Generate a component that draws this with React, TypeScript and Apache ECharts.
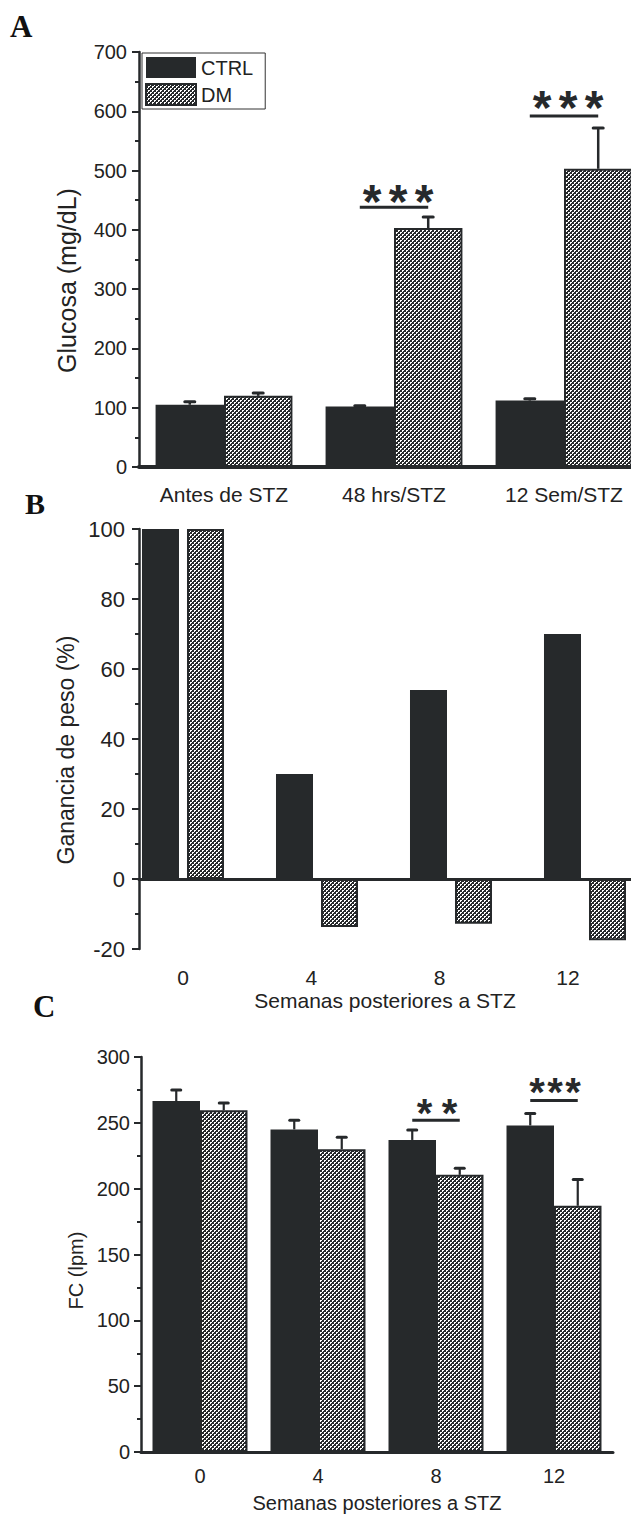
import React, { useEffect, useRef } from "react";
import * as echarts from "echarts";

// ---------- data ----------
const glucoseCats = ["Antes de STZ", "48 hrs/STZ", "12 Sem/STZ"];
const glucoseCtrl = [105, 102, 112];
const glucoseCtrlErr = [5, 1.5, 3];
const glucoseDm = [120, 403, 503];
const glucoseDmErr = [5, 18.5, 69];
const glucoseSigCat = [1, 2];
const glucoseSigLine = [438, 592];
const glucoseSigText = [465, 624];
const glucoseSigLabel = ["***", "***"];
const glucoseAxis = { min: 0, max: 700, interval: 100 };

const weightCats = ["0", "4", "8", "12"];
const weightCtrl = [100, 30, 54, 70];
const weightDm = [100, -13.7, -12.8, -17.5];
const weightAxis = { min: -20, max: 100, interval: 20 };

const hrCats = ["0", "4", "8", "12"];
const hrCtrl = [266.5, 245, 237, 248];
const hrCtrlErr = [8.5, 7, 7.5, 9];
const hrDm = [259.5, 230, 210.5, 187];
const hrDmErr = [5.5, 9, 5, 20];
const hrSigCat = [2, 3];
const hrSigLine = [252, 267];
const hrSigText = [264, 280];
const hrSigLabel = ["**", "***"];
const hrAxis = { min: 0, max: 300, interval: 50 };

// ---------- styles ----------
const FONT = '"Liberation Sans", Arial, Helvetica, sans-serif';
const INK = "#26292b";
const TEXT = "#222222";
const GAP_AC = 0.195;

function makeHatch() {
  const cv = document.createElement("canvas");
  cv.width = 4;
  cv.height = 4;
  const ctx = cv.getContext("2d")!;
  ctx.fillStyle = INK;
  ctx.fillRect(0, 0, 4, 4);
  ctx.fillStyle = "#ffffff";
  ctx.fillRect(0, 0, 2, 1);
  ctx.fillRect(0, 1, 1, 1);
  ctx.fillRect(2, 2, 2, 1);
  ctx.fillRect(2, 3, 1, 1);
  return { image: cv.toDataURL(), repeat: "repeat", imageWidth: 4, imageHeight: 4 };
}

function errRenderer(gap: number, side: number, cap: number, lw: number) {
  return (params: any, api: any) => {
    const cat = api.value(0);
    const pTop = api.coord([cat, api.value(1)]);
    const pBase = api.coord([cat, api.value(2)]);
    const band = api.size([1, 0])[0];
    const bw = (band * (1 - gap)) / 2;
    const x = pBase[0] + (side * bw) / 2;
    return {
      type: "group",
      children: [
        { type: "line", shape: { x1: x, y1: pBase[1], x2: x, y2: pTop[1] }, style: { stroke: INK, lineWidth: lw } },
        { type: "line", shape: { x1: x - cap / 2, y1: pTop[1], x2: x + cap / 2, y2: pTop[1] }, style: { stroke: INK, lineWidth: 3, lineCap: "round" } },
      ],
    };
  };
}

function sigRenderer(labels: string[], gap: number, fontSize: number, spacing: number[], dx: number) {
  return (params: any, api: any) => {
    const cat = api.value(0);
    const pLine = api.coord([cat, api.value(1)]);
    const pText = api.coord([cat, api.value(2)]);
    const band = api.size([1, 0])[0];
    const bw = (band * (1 - gap)) / 2;
    const label = labels[params.dataIndex];
    const n = label.length;
    const sp = spacing[params.dataIndex];
    const children: any[] = [
      { type: "line", shape: { x1: pLine[0] - bw / 2, y1: pLine[1], x2: pLine[0] + bw / 2, y2: pLine[1] }, style: { stroke: INK, lineWidth: 3 } },
    ];
    for (let i = 0; i < n; i++) {
      children.push({
        type: "text",
        x: pText[0] + dx + (i - (n - 1) / 2) * sp,
        y: pText[1] + fontSize * 0.22,
        style: { text: label[i], fontSize, fontWeight: "bold", fontFamily: FONT, fill: INK, align: "center", verticalAlign: "middle" },
      });
    }
    return { type: "group", children };
  };
}

function valueY(gridIndex: number, ax: any, name: string, fontSize: number, margin: number, nameSize: number, nameGap: number, namePad: number) {
  return {
    gridIndex,
    type: "value",
    min: ax.min,
    max: ax.max,
    interval: ax.interval,
    axisLine: { show: true, onZero: false, lineStyle: { color: INK, width: 2.5 } },
    axisTick: { show: true, length: 7, lineStyle: { color: INK, width: 2 } },
    minorTick: { show: true, splitNumber: 2, length: 4, lineStyle: { color: INK, width: 2 } },
    splitLine: { show: false },
    minorSplitLine: { show: false },
    axisLabel: { fontSize, margin, color: TEXT, fontFamily: FONT },
    name,
    nameLocation: "middle",
    nameGap,
    nameTextStyle: { fontSize: nameSize, color: TEXT, fontFamily: FONT, padding: [0, namePad, 0, 0] },
  };
}

export default function App() {
  const ref = useRef<HTMLDivElement>(null);
  useEffect(() => {
    if (!ref.current) return;
    const chart = echarts.init(ref.current, null, { renderer: "svg" });
    const hatch = makeHatch();
    const ctrlStyle = { color: INK };
    const dmStyle = { color: hatch, borderColor: INK, borderWidth: 2 };

    const option: any = {
      animation: false,
      backgroundColor: "#ffffff",
      textStyle: { fontFamily: FONT },
      legend: {
        left: 142,
        top: 53,
        orient: "vertical",
        itemWidth: 50,
        itemHeight: 21,
        itemGap: 5,
        padding: [4, 12, 3, 3],
        borderColor: "#333",
        borderWidth: 1,
        backgroundColor: "#fff",
        icon: "rect",
        selectedMode: false,
        data: ["CTRL", "DM"],
        textStyle: { fontSize: 20, color: TEXT, fontFamily: FONT },
      },
      graphic: [
        { type: "text", x: 10, y: 26, style: { text: "A", fontSize: 31, fontWeight: "bold", fontFamily: '"Liberation Serif", "Times New Roman", serif', fill: "#111", verticalAlign: "middle" } },
        { type: "text", x: 25, y: 503, style: { text: "B", fontSize: 30, fontWeight: "bold", fontFamily: '"Liberation Serif", "Times New Roman", serif', fill: "#111", verticalAlign: "middle" } },
        { type: "text", x: 33, y: 1006, style: { text: "C", fontSize: 31, fontWeight: "bold", fontFamily: '"Liberation Serif", "Times New Roman", serif', fill: "#111", verticalAlign: "middle" } },
      ],
      grid: [
        { left: 139, top: 52, width: 510, height: 415, outerBoundsMode: "none" },
        { left: 116, top: 529, width: 536, height: 420, outerBoundsMode: "none" },
        { left: 139, top: 529, width: 492, height: 420, outerBoundsMode: "none" },
        { left: 141, top: 1057, width: 472, height: 395, outerBoundsMode: "none" },
      ],
      xAxis: [
        {
          gridIndex: 0,
          type: "category",
          data: glucoseCats,
          axisLine: { show: true, lineStyle: { color: INK, width: 4 } },
          axisTick: { show: false },
          axisLabel: { fontSize: 21, margin: 17, color: TEXT, fontFamily: FONT, interval: 0 },
        },
        { gridIndex: 1, type: "category", data: weightCats, show: false },
        {
          gridIndex: 2,
          type: "value",
          min: -1.3716,
          max: 13.965,
          axisLine: { show: true, onZero: true, lineStyle: { color: INK, width: 3 } },
          axisTick: { show: false },
          splitLine: { show: false },
          axisLabel: { customValues: weightCats.map(Number), margin: 18, fontSize: 21, color: TEXT, fontFamily: FONT },
          name: "Semanas posteriores a STZ",
          nameLocation: "middle",
          nameGap: 41,
          nameTextStyle: { fontSize: 21, color: TEXT, fontFamily: FONT },
        },
        {
          gridIndex: 3,
          type: "category",
          data: hrCats,
          axisLine: { show: true, lineStyle: { color: INK, width: 3 } },
          axisTick: { show: false },
          axisLabel: { fontSize: 20, margin: 14, color: TEXT, fontFamily: FONT },
          name: "Semanas posteriores a STZ",
          nameLocation: "middle",
          nameGap: 41,
          nameTextStyle: { fontSize: 20, color: TEXT, fontFamily: FONT },
        },
      ],
      yAxis: [
        valueY(0, glucoseAxis, "Glucosa (mg/dL)", 20, 12, 25, 60, 42),
        { gridIndex: 1, type: "value", min: weightAxis.min, max: weightAxis.max, show: false },
        valueY(2, weightAxis, "Ganancia de peso (%)", 22, 14, 23, 62, 22),
        valueY(3, hrAxis, "FC (lpm)", 20, 11, 20, 55, 32),
      ],
      series: [
        // Panel A
        { type: "bar", name: "CTRL", xAxisIndex: 0, yAxisIndex: 0, data: glucoseCtrl, itemStyle: ctrlStyle, barGap: "0%", barCategoryGap: "19.5%" },
        { type: "bar", name: "DM", xAxisIndex: 0, yAxisIndex: 0, data: glucoseDm, itemStyle: dmStyle, barGap: "0%", barCategoryGap: "19.5%" },
        { type: "custom", xAxisIndex: 0, yAxisIndex: 0, z: 5, renderItem: errRenderer(GAP_AC, -1, 10, 2.5), data: glucoseCtrl.map((v, i) => [i, v + glucoseCtrlErr[i], v]) },
        { type: "custom", xAxisIndex: 0, yAxisIndex: 0, z: 5, renderItem: errRenderer(GAP_AC, 1, 10, 2.5), data: glucoseDm.map((v, i) => [i, v + glucoseDmErr[i], v]) },
        { type: "custom", xAxisIndex: 0, yAxisIndex: 0, z: 5, renderItem: sigRenderer(glucoseSigLabel, GAP_AC, 48, [26, 26], 4), data: glucoseSigCat.map((c, i) => [c, glucoseSigLine[i], glucoseSigText[i]]) },
        // Panel B
        { type: "bar", name: "CTRL", xAxisIndex: 1, yAxisIndex: 1, data: weightCtrl, itemStyle: ctrlStyle, barGap: "21.6%", barCategoryGap: "38.8%" },
        { type: "bar", name: "DM", xAxisIndex: 1, yAxisIndex: 1, data: weightDm, itemStyle: dmStyle, barGap: "21.6%", barCategoryGap: "38.8%" },
        // Panel C
        { type: "bar", name: "CTRL", xAxisIndex: 3, yAxisIndex: 3, data: hrCtrl, itemStyle: ctrlStyle, barGap: "0%", barCategoryGap: "19.5%" },
        { type: "bar", name: "DM", xAxisIndex: 3, yAxisIndex: 3, data: hrDm, itemStyle: dmStyle, barGap: "0%", barCategoryGap: "19.5%" },
        { type: "custom", xAxisIndex: 3, yAxisIndex: 3, z: 5, renderItem: errRenderer(GAP_AC, -1, 9, 2.2), data: hrCtrl.map((v, i) => [i, v + hrCtrlErr[i], v]) },
        { type: "custom", xAxisIndex: 3, yAxisIndex: 3, z: 5, renderItem: errRenderer(GAP_AC, 1, 9, 2.2), data: hrDm.map((v, i) => [i, v + hrDmErr[i], v]) },
        { type: "custom", xAxisIndex: 3, yAxisIndex: 3, z: 5, renderItem: sigRenderer(hrSigLabel, GAP_AC, 40, [25, 18], 1), data: hrSigCat.map((c, i) => [c, hrSigLine[i], hrSigText[i]]) },
      ],
    };
    chart.setOption(option);
    return () => chart.dispose();
  }, []);
  return <div ref={ref} style={{ position: "absolute", left: 0, top: 0, width: 631, height: 1515, background: "#fff" }} />;
}
